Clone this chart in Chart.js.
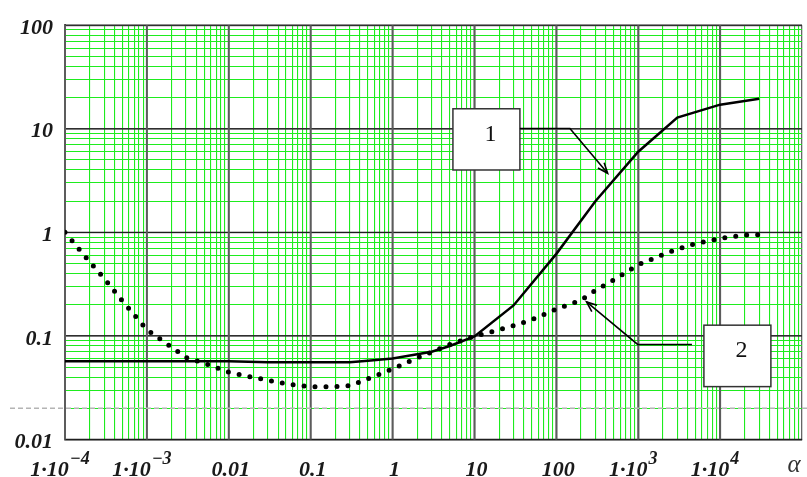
<!DOCTYPE html>
<html>
<head>
<meta charset="utf-8">
<style>
html,body{margin:0;padding:0;background:#fff;}
#wrap{width:807px;height:477px;position:relative;}
</style>
<script src="https://cdn.jsdelivr.net/npm/chart.js@4.4.1/dist/chart.umd.min.js"></script>
</head>
<body>
<div id="wrap"><canvas id="c" width="807" height="477"></canvas></div>
<script>
// ---- data ----
const alpha1 = [1e-4, 3e-4, 1e-3, 3e-3, 0.01, 0.03, 0.1, 0.3, 0.5, 1, 2, 3, 5, 10, 30, 100, 300, 1000, 3000, 1e4, 3e4];
const curve1 = [0.057, 0.057, 0.057, 0.057, 0.057, 0.0557, 0.0557, 0.0557, 0.0576, 0.0605, 0.0664, 0.0704, 0.080, 0.099, 0.197, 0.62, 2.0, 6.0, 12.8, 17.1, 19.5];

const alpha2 = [1e-4, 2e-4, 3e-4, 5e-4, 1e-3, 2e-3, 3e-3, 5e-3, 0.01, 0.02, 0.03, 0.05, 0.1, 0.2, 0.3, 0.5, 1, 2, 3, 5, 10, 20, 30, 50, 100, 200, 300, 500, 1000, 2000, 3000, 5000, 1e4, 2e4, 3e4];
const curve2 = [1.0, 0.52, 0.36, 0.218, 0.115, 0.078, 0.062, 0.0545, 0.0446, 0.0397, 0.0374, 0.0345, 0.0323, 0.0324, 0.0331, 0.0385, 0.048, 0.0613, 0.0697, 0.0829, 0.0995, 0.1146, 0.1254, 0.1432, 0.1815, 0.2217, 0.2746, 0.3466, 0.4866, 0.61, 0.6875, 0.7785, 0.8728, 0.94, 0.95];

const yTickValues = [0.01, 0.1, 1, 10, 100];
const yTickLabels = ['0.01', '0.1', '1', '10', '100'];
const xTickValues = [1e-4, 1e-3, 0.01, 0.1, 1, 10, 100, 1e3, 1e4];
const xTickBase = ['1·10', '1·10', '0.01', '0.1', '1', '10', '100', '1·10', '1·10'];
const xTickExp  = ['−4', '−3', '', '', '', '', '', '3', '4'];
const xAxisTitle = 'α';
const refLineValue = 0.02;
const curveLabels = ['1', '2'];

// annotation geometry in data coordinates
const labelBoxes = [
  {x0: 5.46, x1: 35.9, yTop: 15.6, yBot: 4.0, path: [[35.9, 10.05], [146.6, 10.05], [423, 3.72]]},
  {x0: 6340, x1: 41700, yTop: 0.127, yBot: 0.0324, path: [[4530, 0.0827], [984, 0.0827], [234, 0.213]]}
];

// ---- helpers ----
function logTicks(minExp, maxExp) {
  const t = [];
  for (let e = minExp; e < maxExp; e++) {
    for (let m = 1; m < 10; m++) t.push({value: m * Math.pow(10, e), major: m === 1});
  }
  t.push({value: Math.pow(10, maxExp), major: true});
  return t;
}
const GREEN = 'rgb(30,236,30)';
const SERIF = '"Liberation Serif", "Times New Roman", serif';

function seg(ctx, x0, y0, x1, y1) { ctx.beginPath(); ctx.moveTo(x0, y0); ctx.lineTo(x1, y1); ctx.stroke(); }

const decor = {
  id: 'decor',
  beforeDatasetsDraw(chart) {
    const {ctx, chartArea: a, scales: {x, y}} = chart;
    ctx.save();
    ctx.strokeStyle = '#1e1e1e'; ctx.lineWidth = 1.3;
    yTickValues.forEach(v => { const py = y.getPixelForValue(v); seg(ctx, a.left, py, a.right, py); });
    ctx.strokeStyle = '#5c5c5c'; ctx.lineWidth = 2;
    xTickValues.forEach(v => { const px = x.getPixelForValue(v); seg(ctx, px, a.top, px, a.bottom); });
    // light dashed reference line
    const ry = y.getPixelForValue(refLineValue);
    ctx.strokeStyle = '#b4b4b4'; ctx.lineWidth = 1.5; ctx.setLineDash([5, 3]);
    seg(ctx, 10, ry, chart.width, ry);
    ctx.restore();
  },
  afterDatasetsDraw(chart) {
    const {ctx, scales: {x, y}} = chart;
    ctx.save();
    // label boxes with leaders
    labelBoxes.forEach((b, i) => {
      const L = x.getPixelForValue(b.x0), R = x.getPixelForValue(b.x1);
      const T = y.getPixelForValue(b.yTop), B = y.getPixelForValue(b.yBot);
      ctx.fillStyle = '#fff'; ctx.fillRect(L, T, R - L, B - T);
      ctx.strokeStyle = '#333'; ctx.lineWidth = 1.5; ctx.strokeRect(L, T, R - L, B - T);
      ctx.fillStyle = '#111'; ctx.font = '24px ' + SERIF; ctx.textAlign = 'center'; ctx.textBaseline = 'alphabetic';
      ctx.fillText(curveLabels[i], (L + R) / 2 + 4, T + 0.525 * (B - T));
      const pts = b.path.map(p => [x.getPixelForValue(p[0]), y.getPixelForValue(p[1])]);
      ctx.strokeStyle = '#000'; ctx.lineWidth = 1.6;
      ctx.beginPath(); ctx.moveTo(pts[0][0], pts[0][1]);
      for (let k = 1; k < pts.length; k++) ctx.lineTo(pts[k][0], pts[k][1]);
      ctx.stroke();
      const [p0, p1] = [pts[pts.length - 2], pts[pts.length - 1]];
      const t = Math.atan2(p1[1] - p0[1], p1[0] - p0[0]), len = 11, ang = 0.38;
      ctx.beginPath();
      ctx.moveTo(p1[0] - len * Math.cos(t - ang), p1[1] - len * Math.sin(t - ang));
      ctx.lineTo(p1[0], p1[1]);
      ctx.lineTo(p1[0] - len * Math.cos(t + ang), p1[1] - len * Math.sin(t + ang));
      ctx.stroke();
    });
    // x tick labels with superscripts
    const baseFont = 'italic bold 22px ' + SERIF, expFont = 'italic bold 18px ' + SERIF;
    ctx.fillStyle = '#1a1a1a'; ctx.textAlign = 'left'; ctx.textBaseline = 'alphabetic';
    xTickValues.forEach((v, i) => {
      const px = x.getPixelForValue(v);
      ctx.font = baseFont; const wb = ctx.measureText(xTickBase[i]).width;
      ctx.font = expFont; const we = xTickExp[i] ? ctx.measureText(xTickExp[i]).width + 1 : 0;
      const off = xTickExp[i] ? -5 : 2;
      const sx = px + off - (wb + we) / 2;
      ctx.font = baseFont; ctx.fillText(xTickBase[i], sx, 476);
      if (xTickExp[i]) { ctx.font = expFont; ctx.fillText(xTickExp[i], sx + wb + 1, 464); }
    });
    ctx.font = 'italic 25px ' + SERIF; ctx.fillStyle = '#333'; ctx.textAlign = 'center';
    ctx.fillText(xAxisTitle, 794, 472);
    ctx.restore();
  }
};

const gridColor = c => (c.tick && c.tick.major) ? '#666' : GREEN;
const gridWidth = c => (c.tick && c.tick.major) ? 1.3 : 1.1;

new Chart(document.getElementById('c'), {
  type: 'line',
  data: {
    datasets: [
      {data: alpha1.map((a, i) => ({x: a, y: curve1[i]})), borderColor: '#000', borderWidth: 2.5,
       pointRadius: 0, tension: 0, fill: false},
      {data: alpha2.map((a, i) => ({x: a, y: curve2[i]})), borderColor: '#000', borderWidth: 5,
       borderDash: [0, 11], borderCapStyle: 'round', pointRadius: 0, tension: 0, fill: false}
    ]
  },
  options: {
    responsive: false, animation: false, devicePixelRatio: 1,
    layout: {padding: {top: 17.5, right: 5, left: 0, bottom: 0}},
    plugins: {legend: {display: false}, tooltip: {enabled: false}},
    scales: {
      x: {
        type: 'logarithmic', min: 1e-4, max: 1e5,
        afterBuildTicks: s => { s.ticks = logTicks(-4, 5); },
        afterFit: s => { s.height = 37.5; },
        ticks: {display: false, autoSkip: false},
        grid: {color: gridColor, lineWidth: gridWidth, drawTicks: false},
        border: {display: true, color: '#222', width: 1.3}
      },
      y: {
        type: 'logarithmic', min: 0.01, max: 100,
        afterBuildTicks: s => { s.ticks = logTicks(-2, 2); },
        afterFit: s => { s.width = 65; },
        ticks: {
          autoSkip: false, padding: 12, labelOffset: 3, color: '#1a1a1a',
          font: {family: SERIF, size: 22, style: 'italic', weight: 'bold'},
          callback: (v) => {
            const i = yTickValues.findIndex(t => Math.abs(Math.log10(t) - Math.log10(v)) < 1e-6);
            return i >= 0 ? yTickLabels[i] : '';
          }
        },
        grid: {color: gridColor, lineWidth: gridWidth, drawTicks: false},
        border: {display: true, color: '#5c5c5c', width: 2}
      }
    }
  },
  plugins: [decor]
});
</script>
</body>
</html>
